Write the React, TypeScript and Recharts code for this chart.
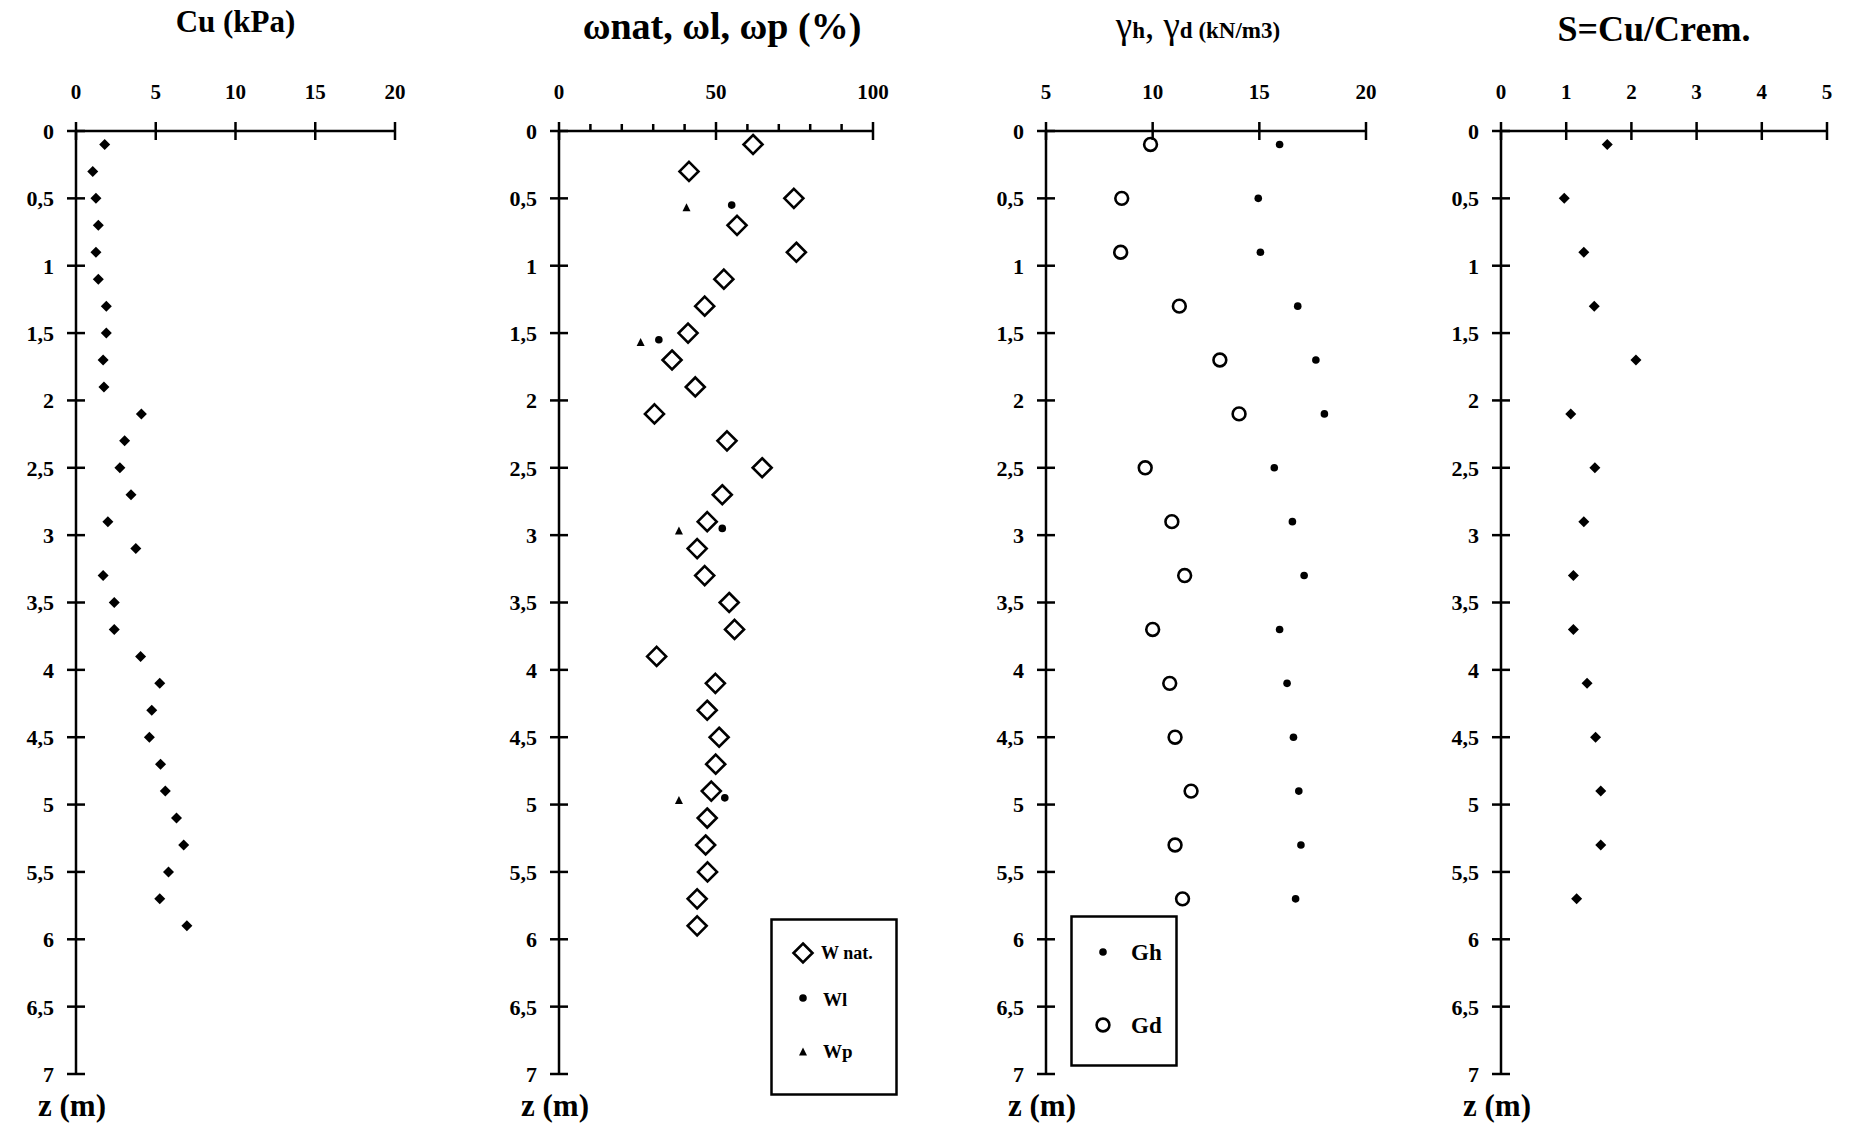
import React from 'react'
import { ScatterChart, Scatter, XAxis, YAxis, Legend } from 'recharts'

const FONT = '"Liberation Serif", "Times New Roman", serif'

// depth axis (m), shared by all four panels
const depthTicks = [0, 0.5, 1, 1.5, 2, 2.5, 3, 3.5, 4, 4.5, 5, 5.5, 6, 6.5, 7]

// Cu (kPa)
const cuDepth = [0.1, 0.3, 0.5, 0.7, 0.9, 1.1, 1.3, 1.5, 1.7, 1.9, 2.1, 2.3, 2.5, 2.7, 2.9, 3.1, 3.3, 3.5, 3.7, 3.9, 4.1, 4.3, 4.5, 4.7, 4.9, 5.1, 5.3, 5.5, 5.7, 5.9]
const cuValues = [1.8, 1.05, 1.25, 1.4, 1.25, 1.4, 1.9, 1.9, 1.7, 1.75, 4.1, 3.05, 2.75, 3.45, 2.0, 3.75, 1.7, 2.4, 2.4, 4.05, 5.25, 4.75, 4.6, 5.3, 5.6, 6.3, 6.75, 5.8, 5.25, 6.95]
const cuTicks = [0, 5, 10, 15, 20]

// water contents (%)
const wNatDepth = [0.1, 0.3, 0.5, 0.7, 0.9, 1.1, 1.3, 1.5, 1.7, 1.9, 2.1, 2.3, 2.5, 2.7, 2.9, 3.1, 3.3, 3.5, 3.7, 3.9, 4.1, 4.3, 4.5, 4.7, 4.9, 5.1, 5.3, 5.5, 5.7, 5.9]
const wNatValues = [61.8, 41.4, 74.8, 56.7, 75.6, 52.5, 46.4, 41.1, 36.0, 43.4, 30.4, 53.5, 64.7, 52.0, 47.2, 44.0, 46.4, 54.2, 55.9, 31.1, 49.8, 47.2, 51.0, 49.9, 48.5, 47.2, 46.7, 47.3, 44.0, 44.0]
const wlDepth = [0.55, 1.55, 2.95, 4.95]
const wlValues = [55.0, 31.8, 52.0, 52.8]
const wpDepth = [0.57, 1.57, 2.97, 4.97]
const wpValues = [40.6, 26.0, 38.2, 38.2]
const wTicks = [0, 10, 20, 30, 40, 50, 60, 70, 80, 90, 100]
const wLabelled = [0, 50, 100]

// unit weights (kN/m3)
const gammaDepth = [0.1, 0.5, 0.9, 1.3, 1.7, 2.1, 2.5, 2.9, 3.3, 3.7, 4.1, 4.5, 4.9, 5.3, 5.7]
const ghValues = [15.95, 14.95, 15.05, 16.8, 17.65, 18.05, 15.7, 16.55, 17.1, 15.95, 16.3, 16.6, 16.85, 16.95, 16.7]
const gdValues = [9.9, 8.55, 8.5, 11.25, 13.15, 14.05, 9.65, 10.9, 11.5, 10.0, 10.8, 11.05, 11.8, 11.05, 11.4]
const gammaTicks = [5, 10, 15, 20]

// sensitivity
const sDepth = [0.1, 0.5, 0.9, 1.3, 1.7, 2.1, 2.5, 2.9, 3.3, 3.7, 4.1, 4.5, 4.9, 5.3, 5.7]
const sValues = [1.63, 0.97, 1.27, 1.43, 2.07, 1.07, 1.44, 1.27, 1.11, 1.11, 1.32, 1.45, 1.53, 1.53, 1.16]
const sTicks = [0, 1, 2, 3, 4, 5]

const pts = (xs: number[], ys: number[]) => xs.map((x, i) => ({ x, y: ys[i] }))

const TICK = 9
const TOP_GAP = 23
const LEFT_GAP = 12
const Y_AXIS_W = 75
const X_AXIS_H = 131
const PLOT_H = 943
const CHART_H = 1127

function TopTick({ x, y, payload, labelled }: any) {
  const axisY = y + TICK + TOP_GAP
  const major = !labelled || labelled.includes(payload.value)
  return (
    <g>
      <line x1={x} x2={x} y1={major ? axisY - TICK : axisY - 7} y2={major ? axisY + TICK : axisY} stroke="#000" strokeWidth={2.5} />
      {major && (
        <text x={x} y={axisY - 32} textAnchor="middle" fontFamily={FONT} fontWeight="bold" fontSize={21} fill="#000">
          {payload.value}
        </text>
      )}
    </g>
  )
}

function LeftTick({ x, y, payload }: any) {
  const axisX = x + TICK + LEFT_GAP
  return (
    <g>
      <line x1={axisX - TICK} x2={axisX + TICK} y1={y} y2={y} stroke="#000" strokeWidth={2.5} />
      <text x={axisX - 22} y={y} dy="0.36em" textAnchor="end" fontFamily={FONT} fontWeight="bold" fontSize={22} fill="#000">
        {String(payload.value).replace('.', ',')}
      </text>
    </g>
  )
}

const SmallDiamond = ({ cx, cy }: any) => (
  <path d={`M${cx},${cy - 5.5}L${cx + 5.5},${cy}L${cx},${cy + 5.5}L${cx - 5.5},${cy}Z`} fill="#000" />
)
const OpenDiamond = ({ cx, cy }: any) => (
  <path d={`M${cx},${cy - 9.5}L${cx + 9.5},${cy}L${cx},${cy + 9.5}L${cx - 9.5},${cy}Z`} fill="#fff" stroke="#000" strokeWidth={2.6} />
)
const Dot = ({ cx, cy }: any) => <circle cx={cx} cy={cy} r={3.8} fill="#000" />
const Triangle = ({ cx, cy }: any) => (
  <path d={`M${cx},${cy - 4.5}L${cx + 4},${cy + 3.5}L${cx - 4},${cy + 3.5}Z`} fill="#000" />
)
const Ring = ({ cx, cy }: any) => <circle cx={cx} cy={cy} r={6.4} fill="#fff" stroke="#000" strokeWidth={2.6} />

interface PanelProps {
  left: number
  plotW: number
  domain: [number, number]
  ticks: number[]
  labelled?: number[]
  title: React.ReactNode
  titleDx: number
  titleY: number
  children: React.ReactNode
}

function Panel({ left, plotW, domain, ticks, labelled, title, titleDx, titleY, children }: PanelProps) {
  const right = 26
  const width = Y_AXIS_W + plotW + right
  return (
    <div style={{ position: 'absolute', left: left - Y_AXIS_W, top: 0 }}>
      <ScatterChart width={width} height={CHART_H} margin={{ top: 0, right, bottom: CHART_H - X_AXIS_H - PLOT_H, left: 0 }}>
        <XAxis
          xAxisId={0}
          type="number"
          dataKey="x"
          orientation="top"
          domain={domain}
          ticks={ticks}
          interval={0}
          height={X_AXIS_H}
          tickSize={TICK}
          tickMargin={TOP_GAP}
          tickLine={false}
          axisLine={{ stroke: '#000', strokeWidth: 2.5 }}
          tick={<TopTick labelled={labelled} />}
          label={() => (
            <text x={Y_AXIS_W + plotW / 2 + titleDx} y={titleY} textAnchor="middle" fontFamily={FONT} fontWeight="bold" fill="#000">
              {title}
            </text>
          )}
        />
        <YAxis
          yAxisId={0}
          type="number"
          dataKey="y"
          reversed
          domain={[0, 7]}
          ticks={depthTicks}
          interval={0}
          width={Y_AXIS_W}
          tickSize={TICK}
          tickMargin={LEFT_GAP}
          tickLine={false}
          axisLine={{ stroke: '#000', strokeWidth: 2.5 }}
          tick={<LeftTick />}
          label={() => (
            <text x={Y_AXIS_W - 4} y={X_AXIS_H + PLOT_H + 42} textAnchor="middle" fontFamily={FONT} fontWeight="bold" fontSize={31} fill="#000">
              z (m)
            </text>
          )}
        />
        {children}
      </ScatterChart>
    </div>
  )
}

const legendText = { fontFamily: FONT, fontWeight: 'bold' as const, fill: '#000' }

function WaterLegend() {
  return (
    <svg width={128} height={178}>
      <rect x={1.5} y={1.5} width={125} height={175} fill="#fff" stroke="#000" strokeWidth={2.5} />
      <OpenDiamond cx={33} cy={35} />
      <text x={51} y={41} fontSize={18} {...legendText}>W nat.</text>
      <Dot cx={33} cy={80} />
      <text x={53} y={88} fontSize={19} {...legendText}>Wl</text>
      <Triangle cx={33} cy={134} />
      <text x={53} y={140} fontSize={19} {...legendText}>Wp</text>
    </svg>
  )
}

function GammaLegend() {
  return (
    <svg width={108} height={152}>
      <rect x={1.5} y={1.5} width={105} height={149} fill="#fff" stroke="#000" strokeWidth={2.5} />
      <Dot cx={33} cy={37} />
      <text x={61} y={45} fontSize={23} {...legendText}>Gh</text>
      <Ring cx={33} cy={110} />
      <text x={61} y={118} fontSize={23} {...legendText}>Gd</text>
    </svg>
  )
}

export default function App() {
  return (
    <div style={{ position: 'absolute', left: 0, top: 0, width: 1853, height: 1127, background: '#fff' }}>
      <Panel left={76} plotW={319} domain={[0, 20]} ticks={cuTicks} title={<tspan fontSize={31}>Cu (kPa)</tspan>} titleDx={0} titleY={32}>
        <Scatter name="Cu" data={pts(cuValues, cuDepth)} shape={SmallDiamond} isAnimationActive={false} />
      </Panel>

      <Panel
        left={559}
        plotW={314}
        domain={[0, 100]}
        ticks={wTicks}
        labelled={wLabelled}
        title={<tspan fontSize={38}>ωnat, ωl, ωp (%)</tspan>}
        titleDx={6}
        titleY={39}
      >
        <Scatter name="W nat." data={pts(wNatValues, wNatDepth)} shape={OpenDiamond} isAnimationActive={false} />
        <Scatter name="Wl" data={pts(wlValues, wlDepth)} shape={Dot} isAnimationActive={false} />
        <Scatter name="Wp" data={pts(wpValues, wpDepth)} shape={Triangle} isAnimationActive={false} />
        <Legend
          layout="vertical"
          align="center"
          verticalAlign="middle"
          content={() => <WaterLegend />}
          wrapperStyle={{ left: 770 - 559 + Y_AXIS_W, top: 918, width: 128, height: 178 }}
        />
      </Panel>

      <Panel
        left={1046}
        plotW={320}
        domain={[5, 20]}
        ticks={gammaTicks}
        title={
          <>
            <tspan fontSize={37} fontWeight="normal">γ</tspan>
            <tspan fontSize={23}>h</tspan>
            <tspan fontSize={37} fontWeight="normal">, γ</tspan>
            <tspan fontSize={23}>d</tspan>
            <tspan fontSize={23}>{' (kN/m3)'}</tspan>
          </>
        }
        titleDx={-8}
        titleY={38}
      >
        <Scatter name="Gh" data={pts(ghValues, gammaDepth)} shape={Dot} isAnimationActive={false} />
        <Scatter name="Gd" data={pts(gdValues, gammaDepth)} shape={Ring} isAnimationActive={false} />
        <Legend
          layout="vertical"
          align="center"
          verticalAlign="middle"
          content={() => <GammaLegend />}
          wrapperStyle={{ left: 1070 - 1046 + Y_AXIS_W, top: 915, width: 108, height: 152 }}
        />
      </Panel>

      <Panel left={1501} plotW={326} domain={[0, 5]} ticks={sTicks} title={<tspan fontSize={36}>S=Cu/Crem.</tspan>} titleDx={-10} titleY={41}>
        <Scatter name="S" data={pts(sValues, sDepth)} shape={SmallDiamond} isAnimationActive={false} />
      </Panel>
    </div>
  )
}
